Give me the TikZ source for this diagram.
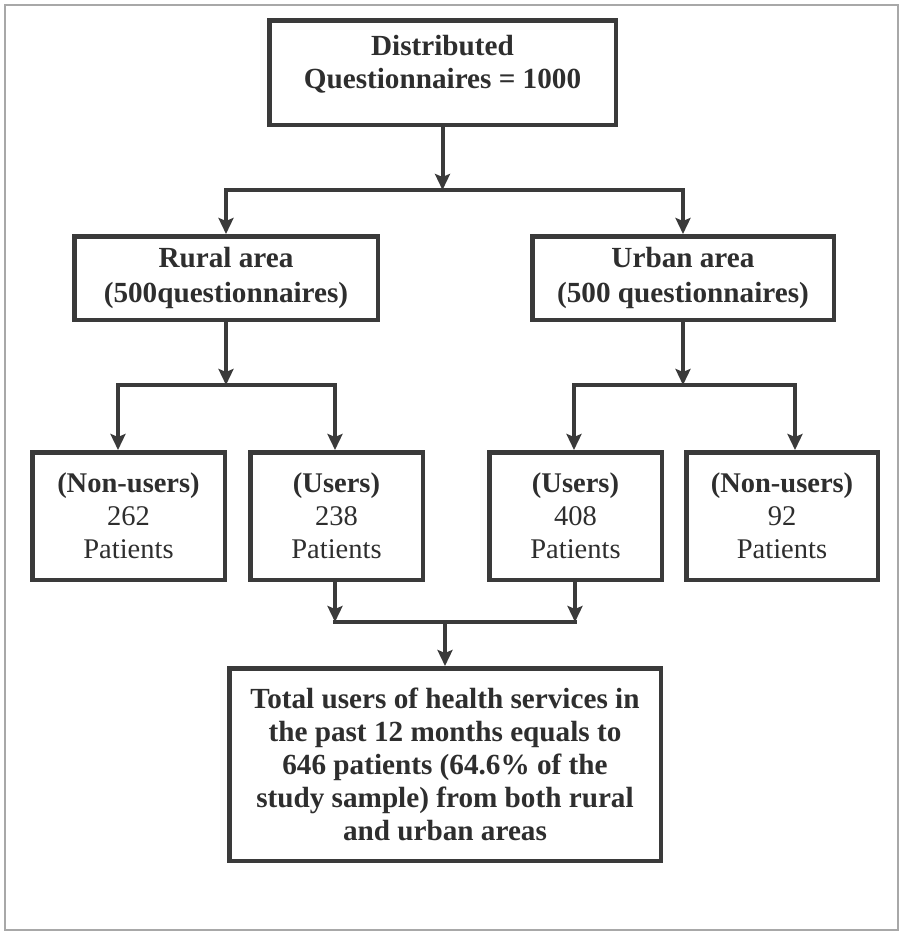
\documentclass[tikz,border=0pt]{standalone}
\usepackage{fontspec}
\setmainfont{Liberation Serif}
\usetikzlibrary{arrows.meta}
\definecolor{ink}{HTML}{3A3A3A}
\definecolor{txtc}{HTML}{2E2E2E}
\definecolor{framec}{HTML}{A8A8A8}
\begin{document}
\begin{tikzpicture}[x=1pt,y=-1pt,
  box/.style={draw=ink, line width=4.5pt, rectangle, inner sep=0pt, align=center,
    text=txtc, font=\fontsize{28.5}{33}\selectfont},
  txt/.style={align=center, text=txtc, inner sep=0pt, font=\fontsize{29.2}{33}\selectfont\bfseries},
  conn/.style={draw=ink, line width=4pt, line cap=rect},
  arr/.style={draw=ink, line width=4pt, -{Stealth[length=16pt,width=15pt,inset=3pt]}}]
\useasboundingbox (0,0) rectangle (905,937);
\draw[framec, line width=1.5pt] (5,5) rectangle (898,930);

% boxes
\node[box, minimum width=346.5pt, minimum height=104.5pt] (top) at (442.5,72.5) {};
\node[txt] (toptxt) at (442.5,64) {Distributed\\Questionnaires = 1000};

\node[box, font=\fontsize{29.2}{35}\selectfont\bfseries, minimum width=303.5pt, minimum height=83.5pt] (rural) at (226,278) {Rural area\\(500questionnaires)};
\node[box, font=\fontsize{29.2}{35}\selectfont\bfseries, minimum width=301.5pt, minimum height=83.5pt] (urban) at (683,278) {Urban area\\(500 questionnaires)};

\node[box, minimum width=192.5pt, minimum height=127.5pt] (nu1) at (128.5,516) {\textbf{(Non-users)}\\262\\Patients};
\node[box, minimum width=172.5pt, minimum height=127.5pt] (us1) at (336.5,516) {\textbf{(Users)}\\238\\Patients};
\node[box, minimum width=172.5pt, minimum height=127.5pt] (us2) at (575.5,516) {\textbf{(Users)}\\408\\Patients};
\node[box, minimum width=191.5pt, minimum height=127.5pt] (nu2) at (782,516) {\textbf{(Non-users)}\\92\\Patients};

\node[box, font=\fontsize{29.2}{33}\selectfont\bfseries, minimum width=431.5pt, minimum height=192.5pt] (total) at (445,764.5)
  {Total users of health services in\\the past 12 months equals to\\646 patients (64.6\% of the\\study sample) from both rural\\and urban areas};

% junction coordinates
\coordinate (j1) at (442.5,190);
\coordinate (jr) at (226,385);
\coordinate (ju) at (683,385);
\coordinate (a1) at (118,385);
\coordinate (a2) at (335,385);
\coordinate (a3) at (574,385);
\coordinate (a4) at (795,385);
\coordinate (b1) at (335,622);
\coordinate (b2) at (575,622);
\coordinate (jt) at (445,622);

% level 1
\draw[arr] (top.south) -- (j1);
\draw[conn] (rural.north |- j1) -- (urban.north |- j1);
\draw[arr] (rural.north |- j1) -- (rural.north);
\draw[arr] (urban.north |- j1) -- (urban.north);

% level 2 rural
\draw[arr] (rural.south) -- (jr);
\draw[conn] (a1) -- (a2);
\draw[arr] (a1) -- (a1 |- nu1.north);
\draw[arr] (a2) -- (a2 |- us1.north);

% level 2 urban
\draw[arr] (urban.south) -- (ju);
\draw[conn] (a3) -- (a4);
\draw[arr] (a3) -- (a3 |- us2.north);
\draw[arr] (a4) -- (a4 |- nu2.north);

% level 3
\draw[arr] (b1 |- us1.south) -- (b1);
\draw[arr] (b2 |- us2.south) -- (b2);
\draw[conn] (b1) -- (b2);
\draw[arr] (jt) -- (total.north);
\end{tikzpicture}
\end{document}
